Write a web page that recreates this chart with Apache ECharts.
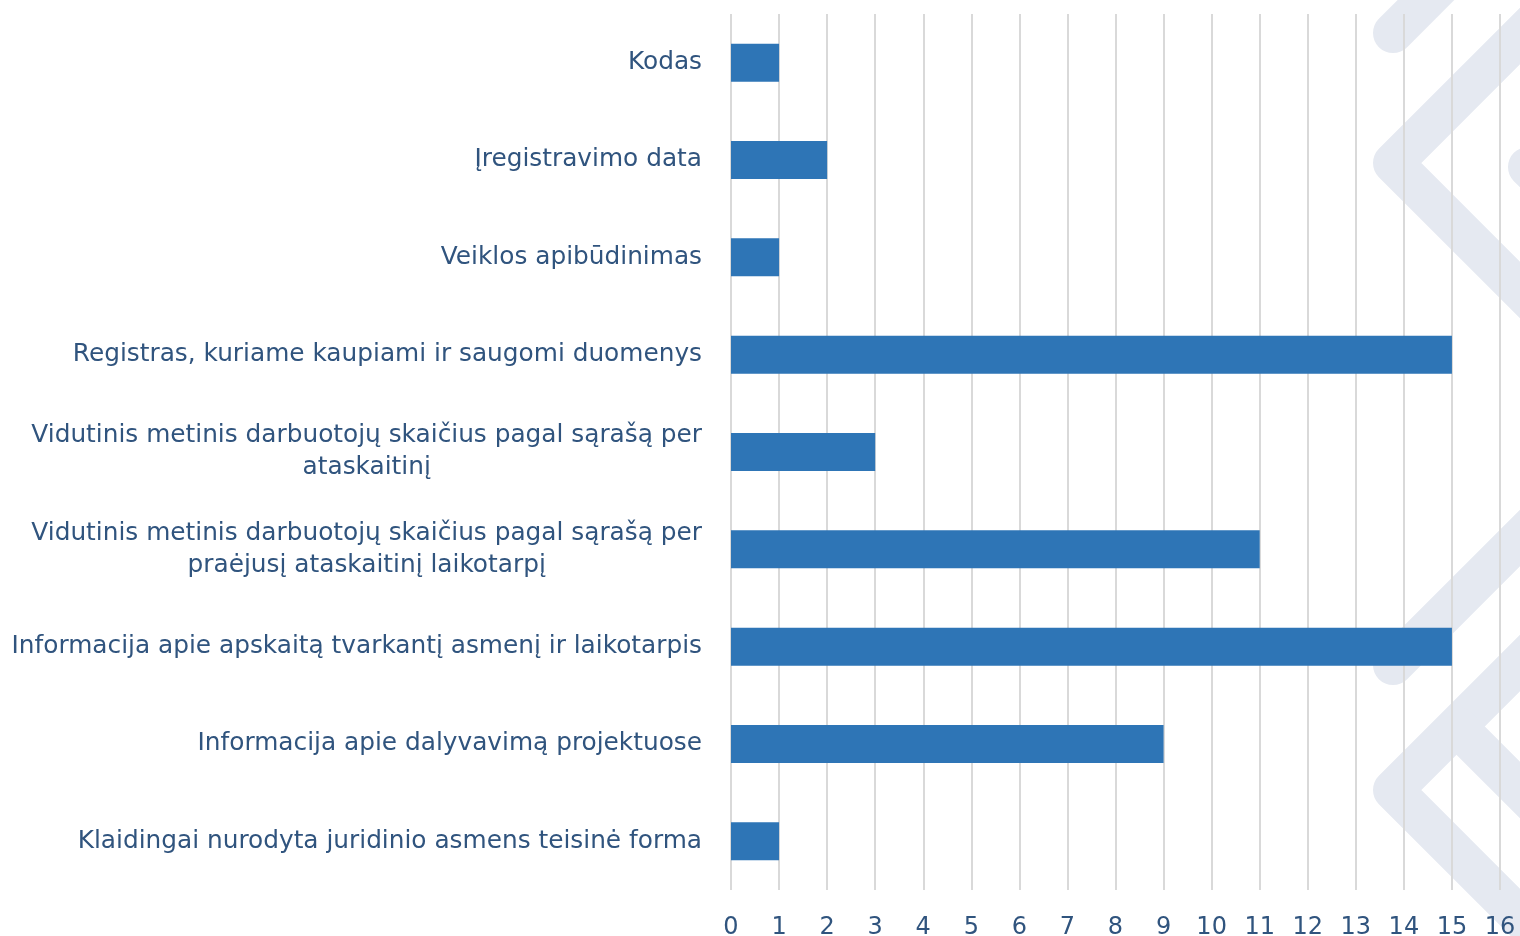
<!DOCTYPE html>
<html lang="lt">
  <head>
    <meta charset="UTF-8" />
    <title>Klaidos</title>
    <script src="https://cdn.jsdelivr.net/npm/echarts@6/dist/echarts.min.js"></script>
    <style>
      html, body { margin: 0; padding: 0; background: #ffffff; }
    </style>
  </head>
  <body>
    <div id="main" style="width: 1520px; height: 936px"></div>
    <script type="text/javascript">
      // categories, top to bottom as in the picture
      const categories = [
        "Kodas",
        "Įregistravimo data",
        "Veiklos apibūdinimas",
        "Registras, kuriame kaupiami ir saugomi duomenys",
        "Vidutinis metinis darbuotojų skaičius pagal sąrašą per\nataskaitinį",
        "Vidutinis metinis darbuotojų skaičius pagal sąrašą per\npraėjusį ataskaitinį laikotarpį",
        "Informacija apie apskaitą tvarkantį asmenį ir laikotarpis",
        "Informacija apie dalyvavimą projektuose",
        "Klaidingai nurodyta juridinio asmens teisinė forma",
      ];
      const counts = [1, 2, 1, 15, 3, 11, 15, 9, 1];
      const xMin = 0;
      const xMax = 16;

      const textColor = "#30547e";
      const font = "DejaVu Sans";
      const marks = "#e5e9f1";

      // background watermark (decoration only)
      function band(points) {
        return {
          type: "polyline",
          z: -10,
          silent: true,
          shape: { points: points },
          style: {
            stroke: marks,
            fill: null,
            lineWidth: 40,
            lineCap: "round",
            lineJoin: "round",
          },
        };
      }

      let options = {
        animation: false,
        backgroundColor: "#ffffff",
        textStyle: { fontFamily: font },
        graphic: {
          elements: [
            band([[1393, 33], [1470, -44]]),
            band([[1580, -24], [1393, 163], [1580, 350]]),
            band([[1528, 167], [1600, 239]]),
            band([[1393, 665], [1560, 498]]),
            band([[1580, 603], [1393, 790], [1580, 977]]),
            band([[1457, 727], [1620, 890]]),
          ],
        },
        grid: {
          left: 731,
          right: 20,
          top: 14,
          bottom: 46,
          containLabel: false,
          outerBoundsMode: "none",
        },
        xAxis: {
          type: "value",
          min: xMin,
          max: xMax,
          interval: 1,
          axisLine: { show: false },
          axisTick: { show: false },
          splitLine: { show: true, lineStyle: { color: "#d9d9d9", width: 2 } },
          axisLabel: {
            color: textColor,
            fontSize: 24,
            margin: 26,
            fontFamily: font,
          },
        },
        yAxis: {
          type: "category",
          inverse: true,
          data: categories,
          axisLine: { show: false },
          axisTick: { show: false },
          axisLabel: {
            color: textColor,
            fontSize: 24.8,
            margin: 29,
            lineHeight: 32,
            fontFamily: font,
            formatter: (v) =>
              v.split("\n").map((l) => "{c|" + l + "}").join("\n"),
            rich: {
              c: {
                color: textColor,
                fontSize: 24.8,
                lineHeight: 32,
                align: "center",
                fontFamily: font,
              },
            },
          },
        },
        series: [
          {
            type: "bar",
            data: counts,
            barCategoryGap: "61%",
            itemStyle: { color: "#2e75b6" },
          },
        ],
      };

      let myChart = echarts.init(document.getElementById("main"));
      myChart.setOption(options);
    </script>
  </body>
</html>
